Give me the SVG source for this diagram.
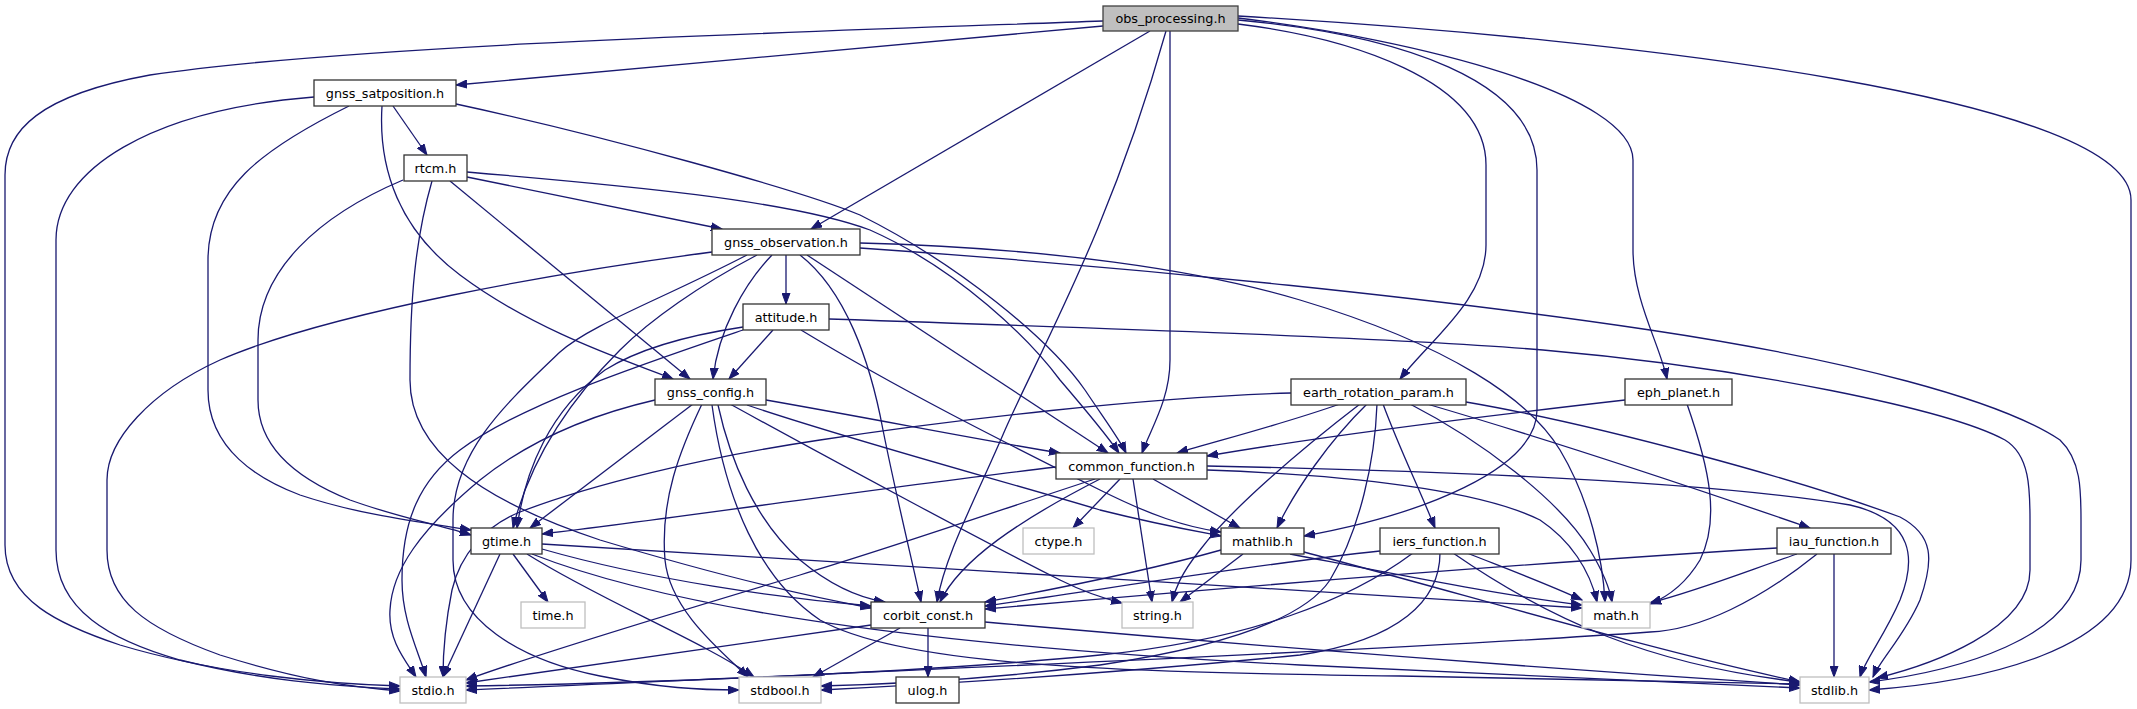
<svg xmlns="http://www.w3.org/2000/svg" width="2137" height="709" viewBox="0 0 2137 709">
<style>
.n rect{fill:#fff;stroke:#333;stroke-width:1.3}
.s rect{fill:#fff;stroke:#bfbfbf;stroke-width:1.3}
.r rect{fill:#bfbfbf;stroke:#404040;stroke-width:1.3}
text{font-family:"DejaVu Sans",sans-serif;font-size:12.8px;text-anchor:middle;fill:#000}
#edges path{fill:none;stroke:#191970;stroke-width:1.3;marker-end:url(#a)}
</style>
<defs>
<marker id="a" markerUnits="userSpaceOnUse" markerWidth="12" markerHeight="9" refX="11" refY="4.5" orient="auto"><path d="M0,0.5 L11,4.5 L0,8.5 z" fill="#191970" stroke="#191970" stroke-width="1"/></marker>
</defs>
<rect width="2137" height="709" fill="#fff"/>
<g id="edges">
<path d="M1103,21 C800,32 350,45 150,75 C40,95 5,130 5,175 L5,545 C5,600 60,625 120,645 C220,675 330,684 400,686"/>
<path d="M1103,26 L456,85"/>
<path d="M1150,31 L811,229"/>
<path d="M1166,31 C1110,230 1040,350 1005,430 C975,500 945,555 937,602"/>
<path d="M1170,31 L1170,360 C1170,400 1150,430 1142,453"/>
<path d="M1238,24 C1350,38 1486,80 1486,165 L1486,245 C1486,300 1430,340 1400,379"/>
<path d="M1238,20 C1400,35 1537,80 1537,170 L1537,410 C1537,470 1420,515 1304,536"/>
<path d="M1238,18 C1420,40 1633,95 1633,160 L1633,250 C1633,300 1660,345 1667,379"/>
<path d="M1238,16 C1650,40 2131,100 2131,200 L2131,560 C2131,650 1980,682 1869,690"/>
<path d="M314,97 C150,110 56,170 56,240 L56,550 C56,610 110,640 180,660 C260,680 330,686 400,689"/>
<path d="M349,106 C260,150 208,190 208,260 L208,390 C208,450 260,480 300,495 C360,515 420,522 471,530"/>
<path d="M382,106 C378,170 400,230 460,275 C540,335 640,365 673,379"/>
<path d="M393,106 L427,155"/>
<path d="M456,104 C600,135 800,190 860,215 C960,265 1050,340 1085,390 C1105,420 1120,440 1126,453"/>
<path d="M467,177 L722,229"/>
<path d="M467,172 C620,185 790,200 870,230 C960,270 1030,340 1060,380 C1090,415 1110,440 1119,453"/>
<path d="M450,181 L690,379"/>
<path d="M403,180 C320,215 258,270 258,340 L258,400 C258,450 300,480 350,500 C400,518 440,525 471,535"/>
<path d="M432,181 C415,240 410,300 410,380 C410,450 480,500 600,540 C700,570 800,595 871,608"/>
<path d="M712,252 C560,272 330,312 220,360 C150,392 107,440 107,480 L107,550 C107,600 145,628 220,655 C300,680 350,687 400,691"/>
<path d="M786,255 L786,304"/>
<path d="M772,255 C745,283 718,330 713,379"/>
<path d="M757,255 C700,285 650,320 620,350 C570,400 530,460 513,528"/>
<path d="M747,255 C660,300 590,325 560,352 C510,400 453,450 453,520 L453,560 C453,620 520,660 600,676 C660,688 700,690 739,690"/>
<path d="M800,255 C845,290 870,360 883,430 C897,500 912,560 921,602"/>
<path d="M807,255 L1108,453"/>
<path d="M860,243 C1050,248 1200,270 1300,300 C1450,345 1530,400 1560,450 C1590,500 1603,560 1605,602"/>
<path d="M860,248 C1150,268 1450,300 1650,330 C1850,360 2000,400 2060,440 C2081,460 2081,490 2081,520 L2081,560 C2081,640 1950,672 1869,682"/>
<path d="M773,330 L729,379"/>
<path d="M743,327 C690,335 640,348 605,370 C550,410 525,470 517,528"/>
<path d="M743,330 C640,365 520,405 460,450 C420,480 402,520 402,580 C402,620 418,650 426,677"/>
<path d="M801,330 C900,390 1000,440 1100,490 C1150,515 1185,527 1221,532"/>
<path d="M829,319 C1100,328 1400,338 1543,350 C1750,368 1950,410 2005,440 C2030,455 2030,490 2030,520 L2030,570 C2030,630 1930,665 1877,678"/>
<path d="M655,400 C590,415 530,440 480,480 C420,530 392,570 390,610 C388,640 405,660 416,677"/>
<path d="M693,404 L530,528"/>
<path d="M766,400 C880,420 980,440 1060,453"/>
<path d="M718,405 C730,460 755,520 800,560 C830,585 860,598 885,602"/>
<path d="M702,404 C680,450 660,500 665,560 C670,610 720,650 748,677"/>
<path d="M730,404 C850,470 1000,550 1060,580 C1090,595 1110,600 1122,603"/>
<path d="M747,405 C850,440 1000,480 1100,510 C1160,525 1200,532 1221,536"/>
<path d="M712,405 C725,500 760,580 820,620 C900,665 1100,672 1400,676 C1600,679 1750,682 1800,684"/>
<path d="M513,554 L548,602"/>
<path d="M500,554 L443,677"/>
<path d="M527,554 C600,600 700,640 754,677"/>
<path d="M542,549 C650,580 780,598 871,606"/>
<path d="M542,544 C800,560 1300,590 1582,608"/>
<path d="M532,554 C700,620 1000,650 1300,665 C1500,675 1700,684 1800,688"/>
<path d="M1056,467 C900,485 700,515 542,534"/>
<path d="M1095,479 C1000,510 900,545 800,575 C650,620 520,660 466,680"/>
<path d="M1100,479 C1020,520 960,560 940,602"/>
<path d="M1120,479 L1073,528"/>
<path d="M1133,479 L1152,602"/>
<path d="M1153,479 L1240,528"/>
<path d="M1207,470 C1350,475 1480,490 1540,520 C1570,540 1590,570 1597,602"/>
<path d="M1207,466 C1400,470 1700,480 1850,505 C1915,520 1916,560 1900,600 C1885,635 1865,660 1860,677"/>
<path d="M1221,550 C1150,570 1050,590 985,602"/>
<path d="M1243,554 L1180,602"/>
<path d="M1290,554 C1400,575 1500,595 1582,605"/>
<path d="M1304,552 C1450,590 1650,650 1800,682"/>
<path d="M1340,404 C1280,425 1220,440 1177,453"/>
<path d="M1367,404 C1330,440 1295,490 1277,528"/>
<path d="M1383,404 C1400,450 1420,490 1435,528"/>
<path d="M1427,404 C1550,440 1700,490 1810,528"/>
<path d="M1410,404 C1480,440 1560,500 1590,550 C1605,575 1610,590 1612,602"/>
<path d="M1466,402 C1600,425 1800,480 1900,517 C1934,535 1934,560 1920,600 C1905,635 1880,660 1873,677"/>
<path d="M1291,393 C1150,397 950,420 820,440 C700,458 590,485 520,512 C485,526 460,555 452,590 C446,620 443,650 443,677"/>
<path d="M1377,404 C1375,460 1360,530 1330,580 C1300,625 1200,650 1100,665 C1000,678 900,684 821,686"/>
<path d="M1360,404 C1300,450 1230,510 1200,550 C1180,575 1175,590 1172,602"/>
<path d="M1625,400 C1450,420 1300,440 1207,456"/>
<path d="M1687,404 C1710,470 1720,520 1700,560 C1685,585 1665,598 1650,604"/>
<path d="M1380,551 C1250,565 1100,590 985,606"/>
<path d="M1413,553 C1350,600 1250,640 1100,655 C900,675 600,684 466,686"/>
<path d="M1440,553 C1440,600 1400,640 1300,655 C1100,675 900,686 821,690"/>
<path d="M1453,553 C1550,620 1650,665 1800,682"/>
<path d="M1467,553 C1510,570 1550,585 1582,600"/>
<path d="M1777,548 C1500,565 1200,590 985,609"/>
<path d="M1797,554 C1750,570 1700,590 1650,603"/>
<path d="M1817,554 C1760,600 1700,630 1650,632 C1400,650 800,675 466,690"/>
<path d="M1834,554 L1834,677"/>
<path d="M928,628 L928,677"/>
<path d="M871,625 C700,650 550,672 466,683"/>
<path d="M900,628 L813,677"/>
<path d="M985,622 C1300,650 1600,672 1800,685"/>
</g>
<g id="obs" class="r"><rect x="1103" y="6" width="135" height="25"/><text x="1170.5" y="23">obs_processing.h</text></g>
<g id="sat" class="n"><rect x="314" y="80" width="142" height="26"/><text x="385" y="97.5">gnss_satposition.h</text></g>
<g id="rtcm" class="n"><rect x="404" y="155" width="63" height="26"/><text x="435.5" y="172.5">rtcm.h</text></g>
<g id="obsv" class="n"><rect x="712" y="229" width="148" height="26"/><text x="786" y="246.5">gnss_observation.h</text></g>
<g id="att" class="n"><rect x="743" y="304" width="86" height="26"/><text x="786" y="321.5">attitude.h</text></g>
<g id="cfg" class="n"><rect x="655" y="379" width="111" height="26"/><text x="710.5" y="396.5">gnss_config.h</text></g>
<g id="erp" class="n"><rect x="1291" y="379" width="175" height="26"/><text x="1378.5" y="396.5">earth_rotation_param.h</text></g>
<g id="eph" class="n"><rect x="1625" y="379" width="107" height="26"/><text x="1678.5" y="396.5">eph_planet.h</text></g>
<g id="cf" class="n"><rect x="1056" y="453" width="151" height="26"/><text x="1131.5" y="470.5">common_function.h</text></g>
<g id="gtime" class="n"><rect x="471" y="528" width="71" height="26"/><text x="506.5" y="545.5">gtime.h</text></g>
<g id="ctype" class="s"><rect x="1023" y="528" width="71" height="26"/><text x="1058.5" y="545.5">ctype.h</text></g>
<g id="mathlib" class="n"><rect x="1221" y="528" width="83" height="26"/><text x="1262.5" y="545.5">mathlib.h</text></g>
<g id="iers" class="n"><rect x="1380" y="528" width="119" height="26"/><text x="1439.5" y="545.5">iers_function.h</text></g>
<g id="iau" class="n"><rect x="1777" y="528" width="114" height="26"/><text x="1834" y="545.5">iau_function.h</text></g>
<g id="time" class="s"><rect x="521" y="602" width="64" height="26"/><text x="553" y="619.5">time.h</text></g>
<g id="corbit" class="n"><rect x="871" y="602" width="114" height="26"/><text x="928" y="619.5">corbit_const.h</text></g>
<g id="string" class="s"><rect x="1122" y="602" width="71" height="26"/><text x="1157.5" y="619.5">string.h</text></g>
<g id="math" class="s"><rect x="1582" y="602" width="68" height="26"/><text x="1616" y="619.5">math.h</text></g>
<g id="stdio" class="s"><rect x="400" y="677" width="66" height="26"/><text x="433" y="694.5">stdio.h</text></g>
<g id="stdbool" class="s"><rect x="739" y="677" width="82" height="26"/><text x="780" y="694.5">stdbool.h</text></g>
<g id="ulog" class="n"><rect x="896" y="677" width="63" height="26"/><text x="927.5" y="694.5">ulog.h</text></g>
<g id="stdlib" class="s"><rect x="1800" y="677" width="69" height="26"/><text x="1834.5" y="694.5">stdlib.h</text></g>
</svg>
